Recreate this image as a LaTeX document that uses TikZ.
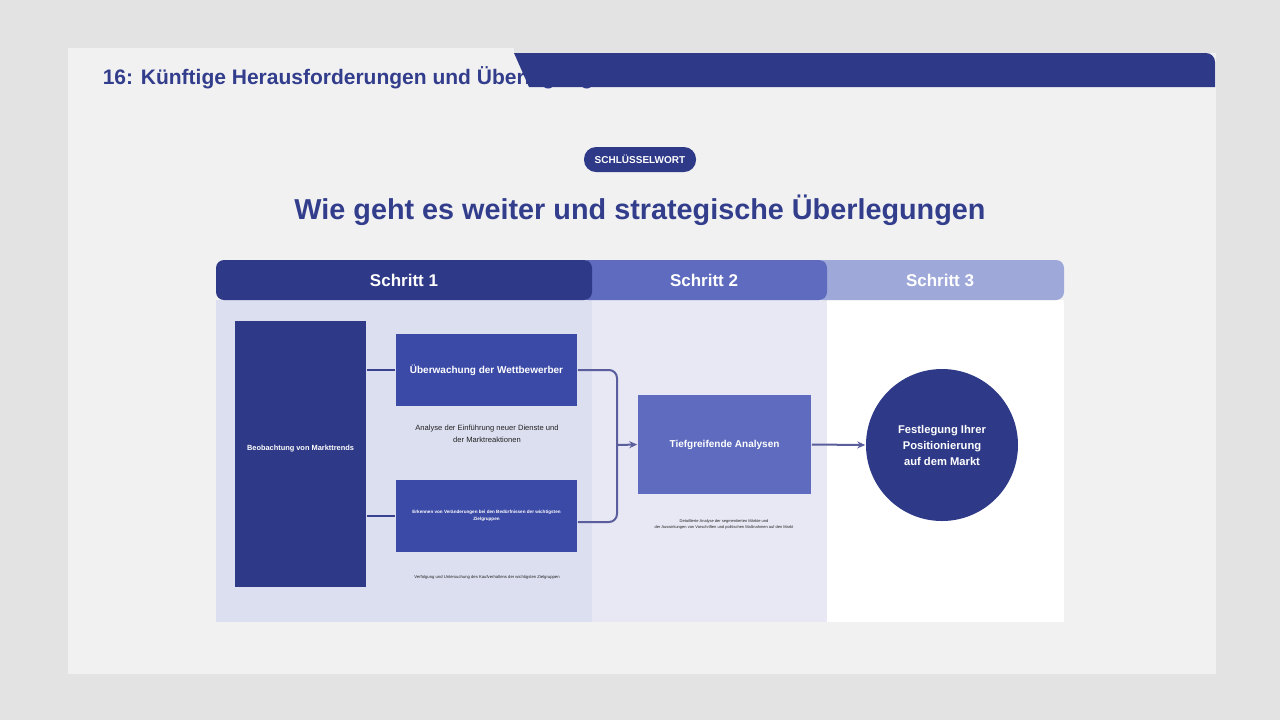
\documentclass[tikz,border=0pt]{standalone}
\usepackage{fontspec}
\setmainfont{Liberation Sans}
\usetikzlibrary{positioning,arrows.meta}
\definecolor{outergray}{HTML}{E3E3E3}
\definecolor{slidegray}{HTML}{F1F1F2}
\definecolor{navy}{HTML}{2E3A87}
\definecolor{titlenavy}{HTML}{323D8C}
\definecolor{boxblue}{HTML}{3B4AA7}
\definecolor{steptwo}{HTML}{5E6BBE}
\definecolor{stepthree}{HTML}{9EA8D9}
\definecolor{colone}{HTML}{DCDFF0}
\definecolor{coltwo}{HTML}{E7E8F3}
\definecolor{notegray}{HTML}{222222}
\definecolor{linknavy}{HTML}{3A4290}
\definecolor{flowgray}{HTML}{5B5E9C}
\tikzset{every picture/.style={line width=0.75pt}}
\begin{document}
\begin{tikzpicture}[x=0.5pt,y=-0.5pt,
  tab/.style={text=white,font=\bfseries\fontsize{8.5}{10}\selectfont,inner sep=0pt},
  box/.style={fill=boxblue,text=white,align=center,inner sep=0pt,
    font=\bfseries\fontsize{5}{6}\selectfont},
  note/.style={text=notegray,align=center,inner sep=0pt},
  link/.style={draw=linknavy,line width=1pt},
  flow/.style={draw=flowgray,line width=1pt,rounded corners=4pt},
  tip/.style={-{Stealth[length=4pt,width=3.5pt]}}]
\useasboundingbox (0,0) rectangle (1280,720);
\fill[outergray] (0,0) rectangle (1280,720);
\fill[slidegray] (68,48) rectangle (1216,674);
%
\node[anchor=base west,text=titlenavy,inner sep=0pt,font=\bfseries\fontsize{10.5}{12}\selectfont]
  (title) at (102,84) {16: Künftige Herausforderungen und Überlegungen};
\fill[outergray] (514,40) rectangle (1220,53);
\fill[navy] (514,53) -- (1206,53) to[out=0,in=90] (1215,62) -- (1215,87) -- (529,87) -- cycle;
%
\node[fill=navy,text=white,rounded corners=6pt,minimum width=56pt,minimum height=12.5pt,
  inner sep=0pt,font=\bfseries\fontsize{5}{6}\selectfont] (badge) at (640,159.5) {SCHLÜSSELWORT};
\node[text=titlenavy,inner sep=0pt,font=\bfseries\fontsize{14.4}{16}\selectfont]
  (heading) at (640,210) {Wie geht es weiter und strategische Überlegungen};
%
\fill[colone] (216,300) rectangle (592,622);
\fill[coltwo] (592,300) rectangle (827,622);
\fill[white] (827,300) rectangle (1064,622);
%
\foreach \Left/\Right/\Col in {815/1064/stepthree, 580/827/steptwo, 216/592/navy}
  \fill[\Col,rounded corners=4pt] (\Left,260) rectangle (\Right,300);
\node[tab] (tab1) at (404,280) {Schritt 1};
\node[tab] (tab2) at (704,280) {Schritt 2};
\node[tab] (tab3) at (940,280) {Schritt 3};
%
\node[box,fill=navy,minimum width=65.5pt,minimum height=133pt] (trends) at (300.5,454) {};
\node[text=white,inner sep=0pt,font=\bfseries\fontsize{3.7}{4.5}\selectfont]
  (trendslabel) at (300.5,449) {Beobachtung von Markttrends};
\node[box,minimum width=90.5pt,minimum height=36pt] (rivals) at (486.5,370) {Überwachung der Wettbewerber};
\node[box,minimum width=90.5pt,minimum height=36pt,font=\bfseries\fontsize{2.3}{3.3}\selectfont]
  (needs) at (486.5,516) {Erkennen von Veränderungen bei den Bedürfnissen der wichtigsten\\Zielgruppen};
\node[box,fill=steptwo,minimum width=86.5pt,minimum height=49.5pt] (deep) at (724.5,444.5) {Tiefgreifende Analysen};
\node[circle,fill=navy,text=white,minimum size=76pt,inner sep=0pt,align=center,
  font=\bfseries\fontsize{5.6}{8}\selectfont] (market) at (942,445)
  {Festlegung Ihrer\\Positionierung\\auf dem Markt};
%
\node[note,font=\fontsize{3.8}{6}\selectfont] (noteA) at (487,434)
  {Analyse der Einführung neuer Dienste und\\der Marktreaktionen};
\node[note,font=\fontsize{2.1}{3}\selectfont] (noteB) at (487,577)
  {Verfolgung und Untersuchung des Kaufverhaltens der wichtigsten Zielgruppen};
\node[note,font=\fontsize{2}{3}\selectfont] (noteC) at (724,524)
  {Detaillierte Analyse der segmentierten Märkte und\\der Auswirkungen von Vorschriften und politischen Maßnahmen auf den Markt};
%
\coordinate (merge) at (617,445);
\draw[link] (trends.east |- rivals.west) -- (rivals.west);
\draw[link] (trends.east |- needs.west) -- (needs.west);
\draw[flow] (rivals.east) -| (merge) |- ([yshift=-3pt]needs.east);
\draw[flow,tip] (merge) -- (deep.west);
\draw[flow,tip] (deep.east) -- (market.west);
\end{tikzpicture}
\end{document}
